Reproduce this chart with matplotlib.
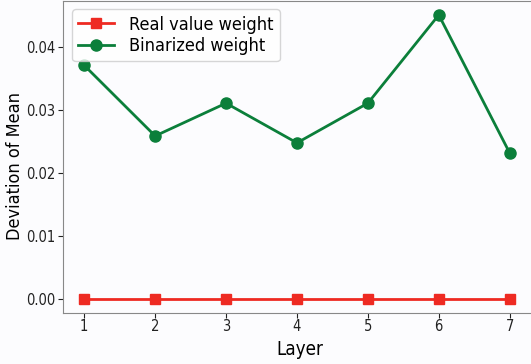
import matplotlib
matplotlib.use("Agg")
import matplotlib.pyplot as plt

plt.rcParams['font.family'] = ['DejaVu Sans']
plt.rcParams['font.stretch'] = 'condensed'

layers = [1, 2, 3, 4, 5, 6, 7]
real_weight = [0, 0, 0, 0, 0, 0, 0]
binarized_weight = [0.0371, 0.0259, 0.0311, 0.0248, 0.0311, 0.0451, 0.0232]

fig = plt.figure(figsize=(5.31, 3.64), dpi=100)
fig.patch.set_facecolor('#fcfcfe')
ax = fig.add_axes([0.1186, 0.14, 0.892, 0.857])
ax.set_facecolor('#fcfcfe')

ax.plot(layers, real_weight, color='#ee2a22', marker='s', markersize=7, linewidth=2, label='Real value weight')
ax.plot(layers, binarized_weight, color='#0b7f3a', marker='o', markersize=8, linewidth=2, label='Binarized weight')

ax.set_xlim(0.7, 7.38)
ax.set_ylim(-0.0022, 0.0473)
ax.set_xticks(layers)
ax.set_yticks([0.0, 0.01, 0.02, 0.03, 0.04])
ax.set_yticklabels(['0.00', '0.01', '0.02', '0.03', '0.04'])
ax.tick_params(labelsize=10.5, colors='#222222', pad=2)
ax.tick_params(axis='x', pad=1)
for s in ax.spines.values():
    s.set_color('#888888')
ax.spines['right'].set_visible(False)

ax.set_xlabel('Layer', fontsize=13.5, labelpad=4)
ax.set_ylabel('Deviation of Mean', fontsize=13)
ax.yaxis.set_label_coords(-0.083, 0.47)

ax.legend(loc='upper left', fontsize=13, handlelength=2.0, borderpad=0.35, labelspacing=0.2,
          bbox_to_anchor=(0.0, 1.003))

fig.savefig('out.png', dpi=100, facecolor=fig.get_facecolor())
